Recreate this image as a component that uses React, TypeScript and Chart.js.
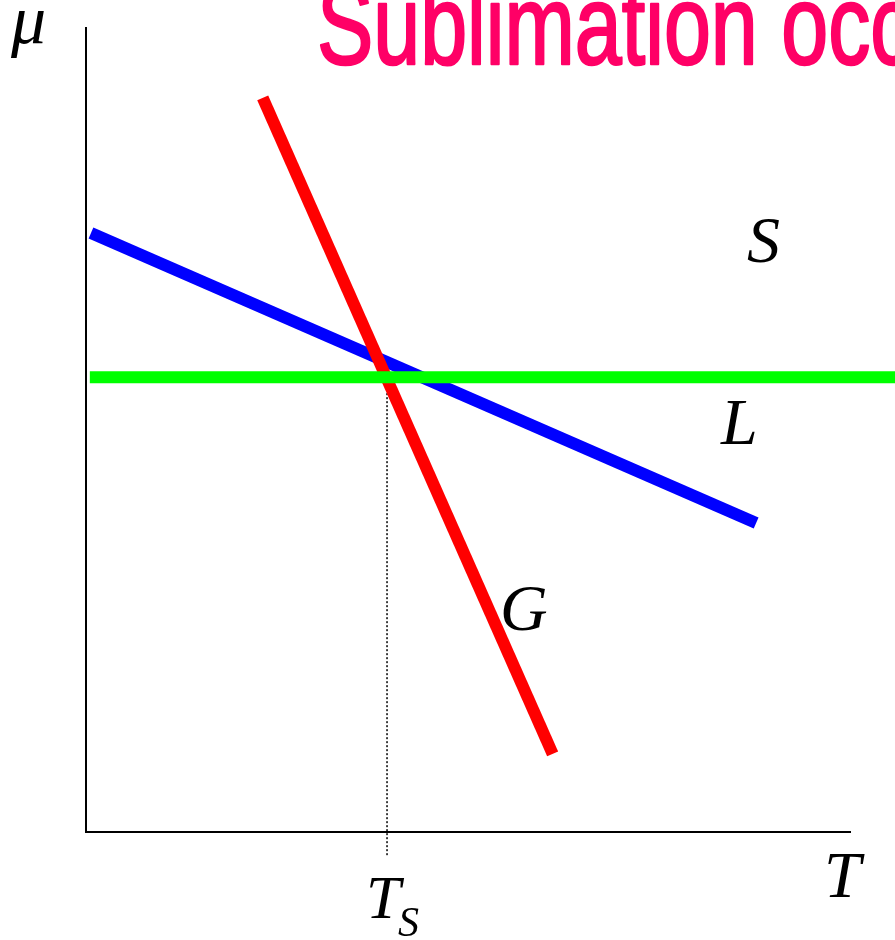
import React, { useEffect, useRef } from "react";
import { Chart, registerables } from "chart.js";

Chart.register(...registerables);

// Data (x: temperature units 0-100 across axis, y: chemical potential 0-100)
const liquidLine = [
  { x: 0.65, y: 74.4 },
  { x: 87.6, y: 38.4 },
];
const gasLine = [
  { x: 23.1, y: 91.2 },
  { x: 61.0, y: 9.7 },
];
const solidLine = [
  { x: 0.5, y: 56.5 },
  { x: 105.8, y: 56.5 },
];
const sublimationMarker = [
  { x: 39.35, y: 56.5 },
  { x: 39.35, y: -3.1 },
];

const titleText = "Sublimation occurs";
const phaseLabels = ["S", "L", "G"];
const axisLabels = { y: "μ", x: "T", mark: "T", markSub: "S" };

export default function App() {
  const ref = useRef<HTMLCanvasElement | null>(null);

  useEffect(() => {
    if (!ref.current) return;
    const overlay = {
      id: "overlay",
      beforeDatasetsDraw(chart: any) {
        const { ctx, chartArea } = chart;
        ctx.save();
        ctx.strokeStyle = "#000";
        ctx.lineWidth = 2;
        ctx.beginPath();
        ctx.moveTo(chartArea.left, chartArea.top);
        ctx.lineTo(chartArea.left, chartArea.bottom);
        ctx.lineTo(chartArea.right, chartArea.bottom);
        ctx.stroke();
        ctx.restore();
      },
      afterDraw(chart: any) {
        const { ctx } = chart;
        ctx.save();
        // title
        ctx.fillStyle = "#FF0066";
        ctx.strokeStyle = "#FF0066";
        ctx.textBaseline = "alphabetic";
        ctx.textAlign = "left";
        ctx.save();
        ctx.translate(317, 64);
        ctx.scale(0.74, 1);
        ctx.font = '114px "Liberation Sans", Arial, sans-serif';
        ctx.lineWidth = 2.5;
        ctx.lineJoin = "round";
        ctx.fillText(titleText, 0, 0);
        ctx.strokeText(titleText, 0, 0);
        ctx.restore();

        ctx.fillStyle = "#000";
        ctx.font = 'italic 70px "Liberation Serif", "Times New Roman", serif';
        ctx.fillText(axisLabels.y, 11, 43);
        ctx.font = 'italic 66px "Liberation Serif", "Times New Roman", serif';
        ctx.fillText(phaseLabels[0], 747, 262);
        ctx.fillText(phaseLabels[1], 721, 444);
        ctx.fillText(phaseLabels[2], 500, 630);
        ctx.fillText(axisLabels.x, 824, 897);
        ctx.font = 'italic 62px "Liberation Serif", "Times New Roman", serif';
        ctx.fillText(axisLabels.mark, 366, 918);
        ctx.font = 'italic 42px "Liberation Serif", "Times New Roman", serif';
        ctx.fillText(axisLabels.markSub, 398, 936);
        ctx.restore();
      },
    };

    const chart = new Chart(ref.current, {
      type: "line",
      data: {
        datasets: [
          {
            data: solidLine,
            borderColor: "#00FF00",
            borderWidth: 12,
            pointRadius: 0,
            clip: false,
          },
          {
            data: gasLine,
            borderColor: "#FF0000",
            borderWidth: 12,
            pointRadius: 0,
            clip: false,
          },
          {
            data: liquidLine,
            borderColor: "#0000FF",
            borderWidth: 12,
            pointRadius: 0,
            clip: false,
          },
          {
            data: sublimationMarker,
            borderColor: "#000",
            borderWidth: 1.5,
            borderDash: [2, 2],
            pointRadius: 0,
            clip: false,
          },
        ],
      },
      options: {
        animation: false,
        responsive: false,
        maintainAspectRatio: false,
        layout: { padding: { left: 86, right: 44, top: 27, bottom: 108 } },
        plugins: { legend: { display: false }, tooltip: { enabled: false } },
        scales: {
          x: { type: "linear", min: 0, max: 100, display: false },
          y: { type: "linear", min: 0, max: 100, display: false },
        },
      } as any,
      plugins: [overlay],
    });
    return () => chart.destroy();
  }, []);

  return (
    <div style={{ position: "absolute", left: 0, top: 0, width: 895, height: 940, background: "#fff" }}>
      <canvas ref={ref} width={895} height={940} style={{ display: "block" }} />
    </div>
  );
}
